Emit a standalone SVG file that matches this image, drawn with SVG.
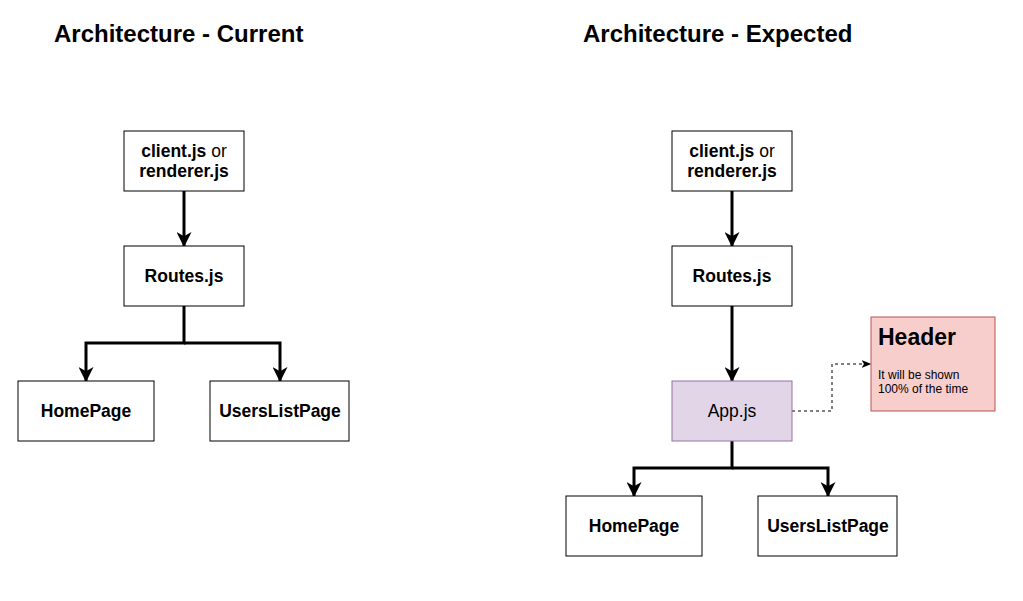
<svg xmlns="http://www.w3.org/2000/svg" width="1023" height="601" viewBox="0 0 1023 601">
<defs>
<marker id="big" viewBox="0 0 14 14" refX="13" refY="7" markerWidth="15" markerHeight="15" markerUnits="userSpaceOnUse" orient="auto">
<path d="M0,0 L14,7 L0,14 L4,7 Z" fill="#000"/>
</marker>
<marker id="small" viewBox="0 0 10 8" refX="9.5" refY="4" markerWidth="10" markerHeight="8" markerUnits="userSpaceOnUse" orient="auto">
<path d="M0,0 L10,4 L0,8 L2.5,4 Z" fill="#000"/>
</marker>
<style>
.box{fill:#fff;stroke:#000;stroke-width:1}
.t{font-family:"Liberation Sans",Arial,sans-serif;font-size:17.5px;fill:#000;text-anchor:middle}
.b{font-weight:bold}
.title{font-family:"Liberation Sans",Arial,sans-serif;font-size:24px;font-weight:bold;fill:#000}
.c{fill:none;stroke:#000;stroke-width:3;marker-end:url(#big)}
.d{fill:none;stroke:#000;stroke-width:1;stroke-dasharray:3 3;marker-end:url(#small)}
</style>
</defs>
<rect width="1023" height="601" fill="#fff"/>
<text class="title" x="54" y="42">Architecture - Current</text>
<text class="title" x="583" y="42">Architecture - Expected</text>
<g id="connectors">
<path class="c" d="M184,191 V246"/>
<path class="c" d="M184,306 V343 H86 V381"/>
<path class="c" d="M184,343 H280 V381"/>
<path class="c" d="M732,191 V246"/>
<path class="c" d="M732,306 V381"/>
<path class="c" d="M732,441 V468 H634 V496"/>
<path class="c" d="M732,468 H828 V496"/>
<path class="d" d="M792,411 H832 V364 H871"/>
</g>
<g id="l-client"><rect class="box" x="124" y="131" width="120" height="60"/><text class="t" x="184" y="157"><tspan class="b">client.js</tspan> or</text><text class="t b" x="184" y="177">renderer.js</text></g>
<g id="l-routes"><rect class="box" x="124" y="246" width="120" height="60"/><text class="t b" x="184" y="282">Routes.js</text></g>
<g id="l-home"><rect class="box" x="18" y="381" width="136" height="60"/><text class="t b" x="86" y="417">HomePage</text></g>
<g id="l-users"><rect class="box" x="210" y="381" width="139" height="60"/><text class="t b" x="280" y="417">UsersListPage</text></g>
<g id="r-client"><rect class="box" x="672" y="131" width="120" height="60"/><text class="t" x="732" y="157"><tspan class="b">client.js</tspan> or</text><text class="t b" x="732" y="177">renderer.js</text></g>
<g id="r-routes"><rect class="box" x="672" y="246" width="120" height="60"/><text class="t b" x="732" y="282">Routes.js</text></g>
<g id="r-app"><rect x="672" y="381" width="120" height="60" fill="#e1d5e7" stroke="#9673a6"/><text class="t" x="732" y="417">App.js</text></g>
<g id="r-header"><rect x="871" y="317" width="124" height="94" fill="#f8cecc" stroke="#b85450"/><text x="878" y="345" font-family="Liberation Sans,Arial,sans-serif" font-size="23" font-weight="bold">Header</text><text x="878" y="379" font-family="Liberation Sans,Arial,sans-serif" font-size="12">It will be shown</text><text x="878" y="393" font-family="Liberation Sans,Arial,sans-serif" font-size="12">100% of the time</text></g>
<g id="r-home"><rect class="box" x="566" y="496" width="136" height="60"/><text class="t b" x="634" y="532">HomePage</text></g>
<g id="r-users"><rect class="box" x="758" y="496" width="139" height="60"/><text class="t b" x="828" y="532">UsersListPage</text></g>
</svg>
